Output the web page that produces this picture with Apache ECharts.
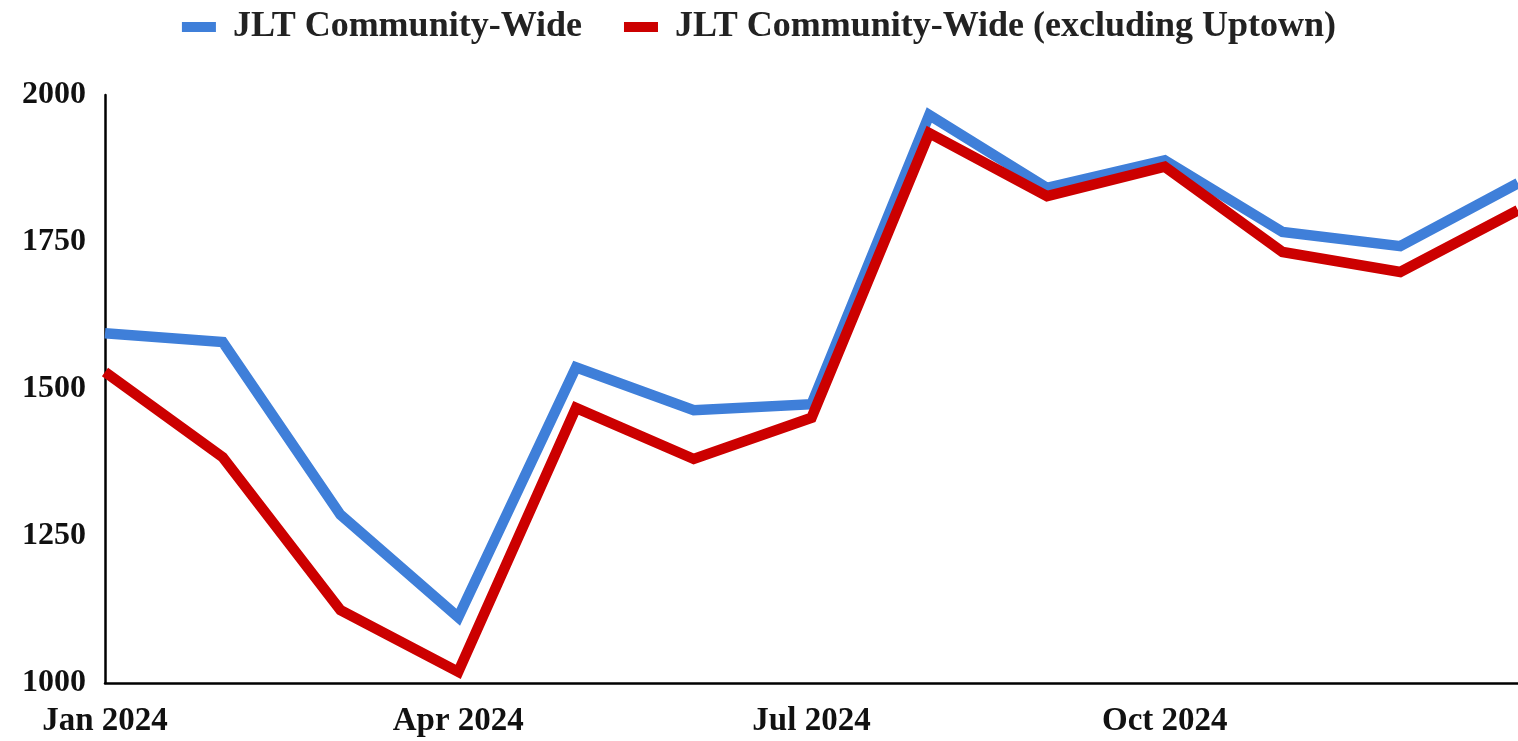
<!DOCTYPE html>
<html><head><meta charset="utf-8">
<script src="https://cdn.jsdelivr.net/npm/echarts@6/dist/echarts.min.js"></script>
<style>html,body{margin:0;padding:0;background:#fff}#c{width:1518px;height:741px}</style>
</head><body><div id="c"></div>
<script>
const months = ['Jan 2024','Feb 2024','Mar 2024','Apr 2024','May 2024','Jun 2024','Jul 2024','Aug 2024','Sep 2024','Oct 2024','Nov 2024','Dec 2024','Jan 2025'];
const communityWide = [1595,1580,1286,1112,1537,1464,1474,1966,1842,1889,1767,1743,1850];
const excludingUptown = [1529,1384,1124,1019,1468,1381,1451,1935,1828,1878,1733,1699,1804];
const yTicks = [1000,1250,1500,1750,2000];
const labelIdx = [0,3,6,9];
const font = '"Liberation Serif", "DejaVu Serif", serif';
const chart = echarts.init(document.getElementById('c'));
chart.setOption({
  animation:false,
  backgroundColor:'#fff',
  legend:{
    top:4, left:'center', itemWidth:34, itemHeight:10, itemGap:42,
    icon:'rect',
    textStyle:{fontFamily:font, fontWeight:'bold', fontSize:36, color:'#222', padding:[0,0,0,12]},
    data:['JLT Community-Wide','JLT Community-Wide (excluding Uptown)']
  },
  grid:{left:105, right:0, top:95, bottom:58, containLabel:false},
  xAxis:{
    type:'category', data:months, boundaryGap:false,
    axisLine:{lineStyle:{color:'#000', width:2.5}},
    axisTick:{show:false},
    axisLabel:{interval:(i)=>labelIdx.includes(i), fontFamily:font, fontWeight:'bold', fontSize:33, color:'#111', margin:22}
  },
  yAxis:{
    type:'value', min:yTicks[0], max:yTicks[yTicks.length-1], interval:250,
    axisLine:{show:true, lineStyle:{color:'#000', width:2.5}},
    axisTick:{show:false}, splitLine:{show:false},
    axisLabel:{formatter:(v)=>String(v), fontFamily:font, fontWeight:'bold', fontSize:32, color:'#111', margin:19}
  },
  series:[
    {name:'JLT Community-Wide', type:'line', data:communityWide, symbol:'none', color:'#3f7fd9', lineStyle:{width:10.5, color:'#3f7fd9', join:'miter'}},
    {name:'JLT Community-Wide (excluding Uptown)', type:'line', data:excludingUptown, symbol:'none', color:'#cc0000', lineStyle:{width:10.5, color:'#cc0000', join:'miter'}}
  ]
});
</script></body></html>
